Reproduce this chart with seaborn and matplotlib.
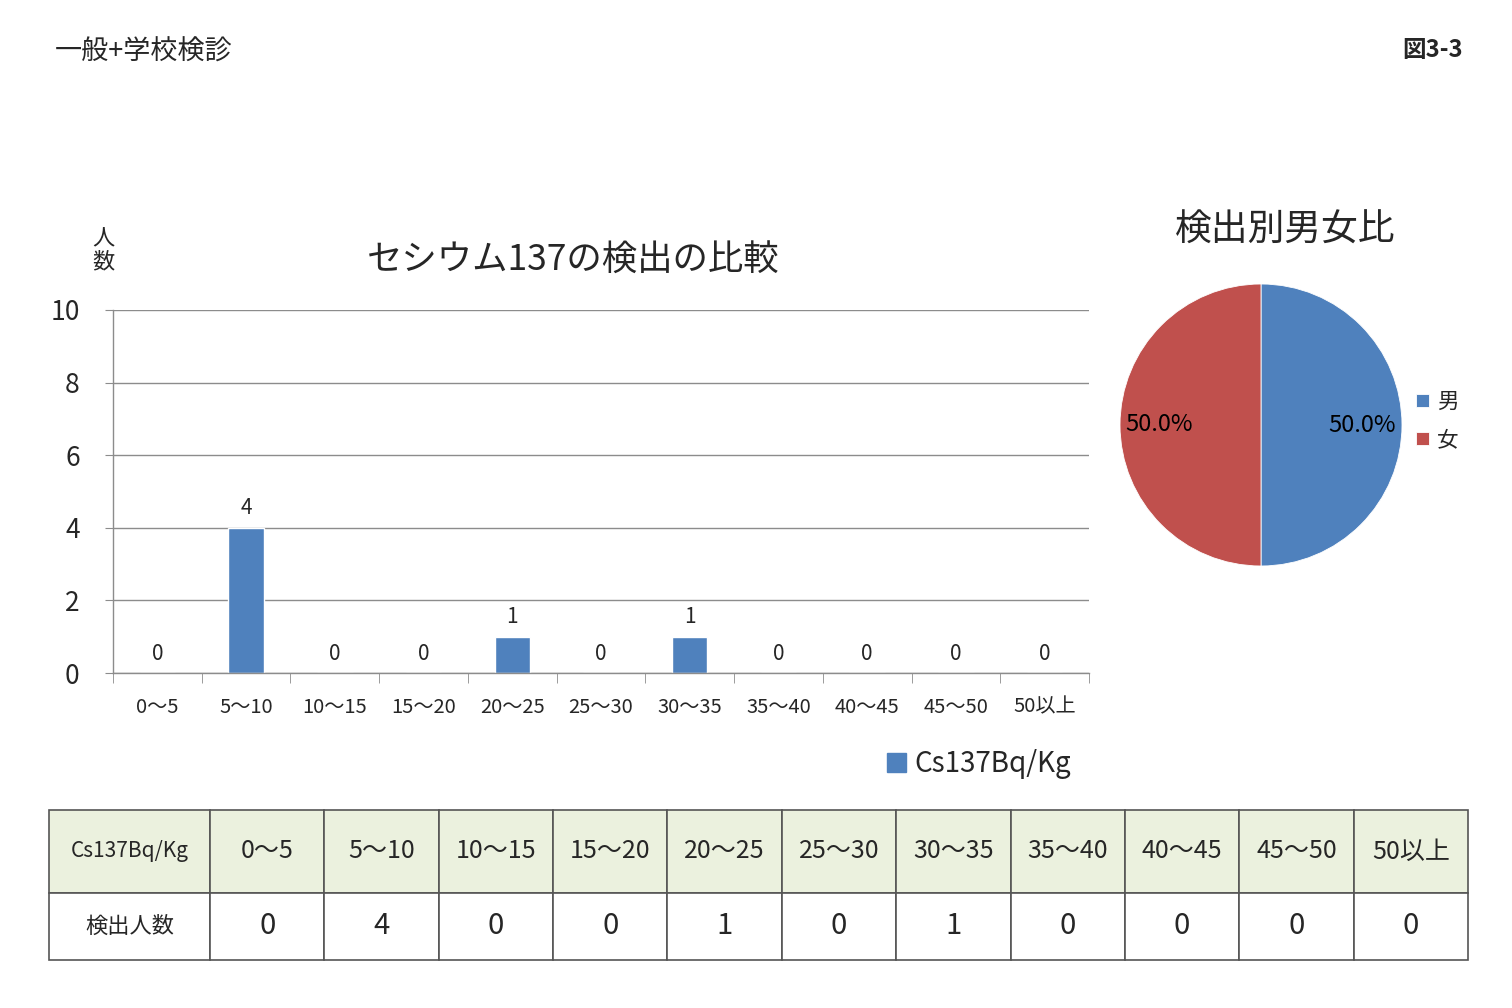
import pandas as pd
import numpy as np

import matplotlib
matplotlib.use("Agg")
import matplotlib.pyplot as plt
import matplotlib.patches as mpatches
import seaborn as sns

# =====================
# DATA
# =====================

ranges = ["0～5", "5～10", "10～15", "15～20", "20～25", "25～30",
          "30～35", "35～40", "40～45", "45～50", "50以上"]
counts = [0, 4, 0, 0, 1, 0, 1, 0, 0, 0, 0]

sex_labels = ["男", "女"]
sex_share = [50.0, 50.0]

series_name = "Cs137Bq/Kg"
row_name = "検出人数"

blue = "#4F81BD"
red = "#C0504D"

# =====================
# STYLE
# =====================

sns.set_style("white")
plt.rcParams["font.family"] = ["Noto Sans CJK JP", "DejaVu Sans"]

W, H = 1512, 1008
fig = plt.figure(figsize=(W / 100, H / 100), dpi=100)


def box(x0, y0, x1, y1):
    return [x0 / W, 1 - y1 / H, (x1 - x0) / W, (y1 - y0) / H]


# =====================
# HEADER TEXT
# =====================

fig.text(55 / W, 1 - 52 / H, "一般+学校検診", fontsize=19.5,
         ha="left", va="center")
fig.text(1463 / W, 1 - 50 / H, "図3-3", fontsize=17, fontweight="bold",
         ha="right", va="center")

# =====================
# BAR CHART
# =====================

df = pd.DataFrame({"range": ranges, "count": counts})

ax = fig.add_axes(box(113, 310, 1089, 673))
sns.barplot(data=df, x="range", y="count", color=blue, width=0.4,
            saturation=1, ax=ax)
ax.set_ylim(0, 10)
ax.set_xlim(-0.5, len(ranges) - 0.5)
ax.set_yticks(np.arange(0, 11, 2))
ax.yaxis.grid(True, color="#8c8c8c", linewidth=1)
ax.set_axisbelow(True)
ax.set_xlabel("")
ax.set_ylabel("")

for side in ["top", "right"]:
    ax.spines[side].set_visible(False)
for side in ["left", "bottom"]:
    ax.spines[side].set_color("#8c8c8c")
    ax.spines[side].set_linewidth(1)

ax.tick_params(axis="y", labelsize=19, length=6, color="#8c8c8c",
               direction="out", pad=18, left=True)
ax.tick_params(axis="x", which="major", length=0, labelsize=14.5, pad=17)
ax.set_xticks(np.arange(-0.5, len(ranges)), minor=True)
ax.tick_params(axis="x", which="minor", length=7, color="#8c8c8c",
               bottom=True)

for container in ax.containers:
    ax.bar_label(container, fmt="%d", fontsize=15, padding=6)

ax.set_title("セシウム137の検出の比較", fontsize=25.5, pad=28,
             x=(573 - 113) / 976)
fig.text(103 / W, 1 - 250 / H, "人\n数", fontsize=16, ha="center",
         va="center", linespacing=1.0)

handle = mpatches.Patch(color=blue, label=series_name)
fig.legend(handles=[handle], loc="center left",
           bbox_to_anchor=(862 / W, 1 - 764 / H), frameon=False,
           fontsize=20, handlelength=0.7, handleheight=0.7,
           handletextpad=0.3)

# =====================
# PIE CHART
# =====================

pax = fig.add_axes(box(1120, 284, 1402, 566))
wedges, texts, autotexts = pax.pie(
    sex_share, colors=[blue, red], startangle=90, counterclock=False,
    autopct="%.1f%%", pctdistance=0.72,
    wedgeprops=dict(edgecolor="white", linewidth=0.6),
    textprops=dict(fontsize=17, color="black"))
pax.set_xlim(-1, 1)
pax.set_ylim(-1, 1)
pax.set_aspect("equal")
fig.text(1285 / W, 1 - 230 / H, "検出別男女比", fontsize=26.5,
         ha="center", va="center")

fig.legend(handles=wedges, labels=sex_labels, loc="center left",
           bbox_to_anchor=(1397 / W, 1 - 421 / H), frameon=False,
           fontsize=15.5, handlelength=0.6, handleheight=0.6,
           handletextpad=0.35, labelspacing=0.75)

# =====================
# TABLE
# =====================

tax = fig.add_axes(box(49, 810, 1468, 960))
tax.axis("off")
cells = [[series_name] + ranges,
         [row_name] + [str(c) for c in counts]]
first_w = 161 / 1419
other_w = (1 - first_w) / len(ranges)
table = tax.table(cellText=cells, cellLoc="center", bbox=[0, 0, 1, 1],
                  colWidths=[first_w] + [other_w] * len(ranges))
table.auto_set_font_size(False)
for (r, c), cell in table.get_celld().items():
    cell.set_edgecolor("#555555")
    cell.set_linewidth(1.2)
    if r == 0:
        cell.set_height(83 / 150)
        cell.set_facecolor("#EBF1DE")
        cell.get_text().set_fontsize(15 if c == 0 else 18)
    else:
        cell.set_height(67 / 150)
        cell.set_facecolor("white")
        cell.get_text().set_fontsize(16 if c == 0 else 21)

fig.savefig("out.png", dpi=100)
